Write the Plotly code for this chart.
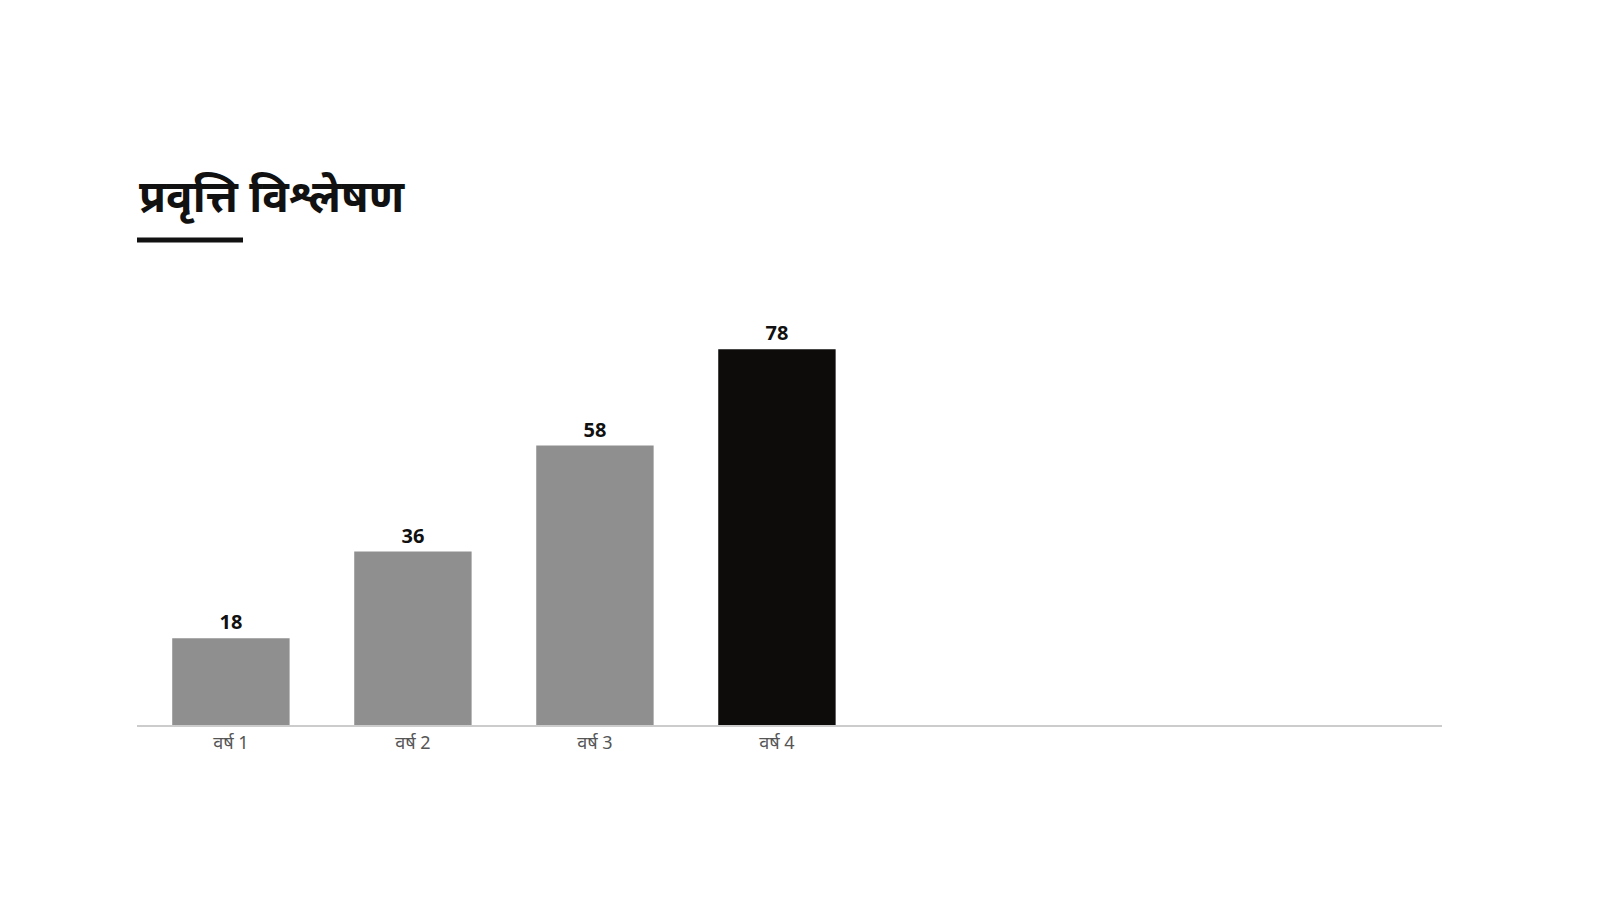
import plotly.graph_objects as go

categories = ['वर्ष 1', 'वर्ष 2', 'वर्ष 3', 'वर्ष 4']
values = [18, 36, 58, 78]
bar_colors = ['#8f8f8f', '#8f8f8f', '#8f8f8f', '#0d0c0b']
title_text = 'प्रवृत्ति विश्लेषण'

fig = go.Figure()
fig.add_trace(go.Bar(
    x = list(range(len(categories))),
    y = values,
    width = 0.645,
    marker = dict(color = bar_colors, line_width = 0),
    text = [str(v) for v in values],
    textposition = 'outside',
    textfont = dict(family = 'Noto Sans', size = 20, color = '#111111', weight = 'bold'),
    cliponaxis = False,
))

W, H = 1598, 900
left, right, top, bottom = 129, 1434, 280, 717

fig.update_layout(
    width = W, height = H,
    margin = dict(l = left, r = W - right, t = top, b = H - bottom),
    paper_bgcolor = 'white', plot_bgcolor = 'white',
    showlegend = False,
    font = dict(family = 'Noto Sans'),
    xaxis = dict(
        range = [-0.516, 6.654],
        tickmode = 'array',
        tickvals = list(range(len(categories))),
        ticktext = categories,
        tickfont = dict(size = 18, color = '#555555'),
        showgrid = False, zeroline = False,
        showline = True, linecolor = '#cccccc', linewidth = 2,
        ticks = '', ticklen = 8, tickcolor = 'white',
    ),
    yaxis = dict(range = [0, 90.7], visible = False),
    annotations = [dict(
        text = '<b>' + title_text + '</b>',
        xref = 'paper', yref = 'paper', x = 0, y = (H - 187 - top * 0) ,
        showarrow = False,
    )],
)
# place title in pixel terms via paper coordinates
ph = bottom - top
fig.layout.annotations = []
fig.add_annotation(
    text = '<b>' + title_text + '</b>',
    xref = 'paper', yref = 'paper',
    x = 0, y = (bottom - 187) / ph,
    xanchor = 'left', yanchor = 'middle',
    showarrow = False,
    font = dict(family = 'Noto Sans', size = 44, color = '#111111'),
)
fig.add_shape(
    type = 'line', xref = 'paper', yref = 'paper',
    x0 = 0, x1 = (235 - left) / (right - left),
    y0 = (bottom - 232) / ph, y1 = (bottom - 232) / ph,
    line = dict(color = '#111111', width = 5),
)

fig.write_html('out.html')
